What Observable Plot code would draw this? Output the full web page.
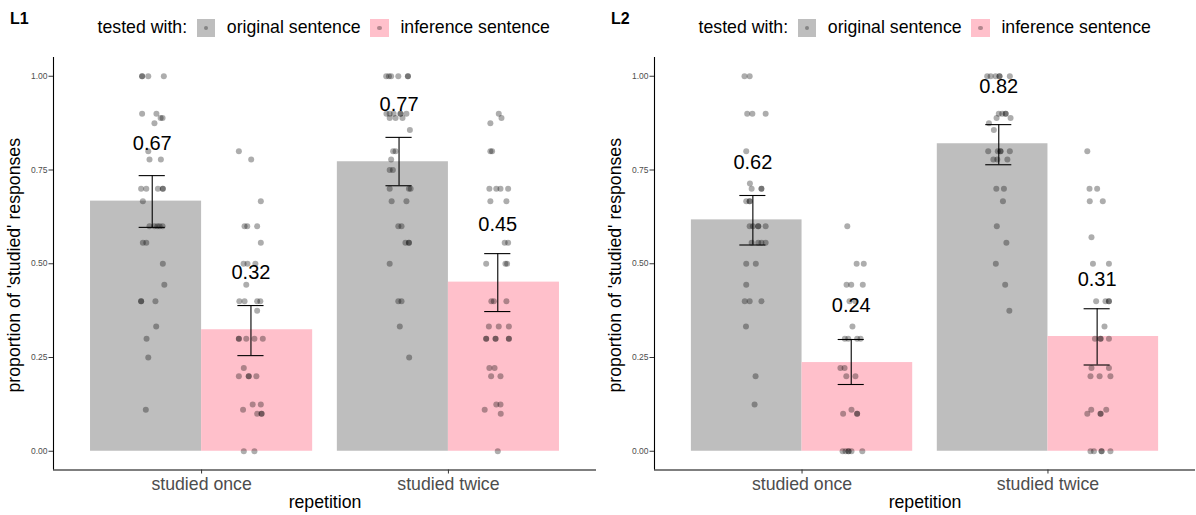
<!DOCTYPE html>
<html>
<head>
<meta charset="utf-8">
<script src="https://cdn.jsdelivr.net/npm/d3@7"></script>
<script src="https://cdn.jsdelivr.net/npm/@observablehq/plot@0.6"></script>
<style>
  body { margin: 0; background: #fff; font-family: "Liberation Sans", Arial, sans-serif; }
  #root { position: relative; width: 1196px; height: 515px; overflow: hidden; background: #fff; }
  .panel { position: absolute; top: 0; height: 515px; }
  .title { position: absolute; left: 10px; top: 10.5px; font-size: 16px; font-weight: bold; line-height: 1; color: #000; z-index: 2; }
  .legend { position: absolute; left: 97.6px; top: 18.75px; display: flex; align-items: center; font-size: 17.7px; line-height: 1; white-space: nowrap; color: #000; }
  .key { width: 18.5px; height: 18.5px; margin: 0 11.5px 0 9.8px; position: relative; }
  .key::after { content: ""; position: absolute; left: 50%; top: 50%; width: 4.5px; height: 4.5px; margin: -2.25px 0 0 -2.25px; border-radius: 50%; background: rgba(0,0,0,0.3); }
  .plotwrap { position: absolute; left: 0; top: 45px; }
</style>
</head>
<body>
<div id="root"></div>
<script>
// ---------- data ----------
const categories = ["studied once", "studied twice"];
const testTypes = ["original sentence", "inference sentence"];
const legendTitle = "tested with:";
const xTitle = "repetition";
const yTitle = "proportion of 'studied' responses";
const yTicks = [0, 0.25, 0.5, 0.75, 1];
const panelNames = ["L1", "L2"];
const fillColors = ["#BEBEBE", "#FFC0CB"];

// order in each array: once-original, once-inference, twice-original, twice-inference
const L1_means  = [0.667, 0.324, 0.772, 0.451];
const L1_lower  = [0.597, 0.255, 0.708, 0.3725];
const L1_upper  = [0.735, 0.3885, 0.837, 0.527];
const L1_labels = ["0.67", "0.32", "0.77", "0.45"];

const L2_means  = [0.617, 0.2365, 0.82, 0.306];
const L2_lower  = [0.550, 0.178, 0.764, 0.230];
const L2_upper  = [0.682, 0.298, 0.871, 0.380];
const L2_labels = ["0.62", "0.24", "0.82", "0.31"];

// individual participant proportions: [value, horizontal jitter (category units)]
const L1_once_original = [
  [1,-0.041],[1,-0.041],[1,-0.016],[1,0.047],
  [0.9,-0.041],[0.9,0.017],[0.889,0.042],[0.889,0.034],[0.875,0.009],
  [0.8,-0.016],[0.778,-0.011],[0.778,0.035],
  [0.7,-0.045],[0.7,-0.024],[0.7,0.023],[0.7,0.043],[0.7,0.043],
  [0.667,-0.038],
  [0.6,-0.011],[0.6,0.009],[0.6,0.021],[0.6,0.03],[0.6,0.042],
  [0.556,-0.038],[0.556,-0.024],[0.5,0.043],[0.444,0.049],
  [0.4,-0.045],[0.4,-0.045],[0.4,0.013],
  [0.333,0.016],[0.3,-0.023],[0.25,-0.016],[0.111,-0.026]
];
const L1_once_inference = [
  [0.8,-0.049],[0.778,0.001],[0.667,0.04],
  [0.6,-0.026],[0.6,-0.015],[0.6,0.025],[0.556,0.04],
  [0.5,-0.03],[0.5,-0.014],[0.5,0.018],[0.444,-0.019],
  [0.4,-0.047],[0.4,-0.026],[0.4,0.025],[0.4,0.038],[0.375,0.025],
  [0.3,-0.049],[0.3,-0.049],[0.3,-0.019],[0.3,0.014],[0.3,0.048],
  [0.222,-0.029],[0.2,-0.049],[0.2,-0.009],[0.2,-0.009],[0.2,0.022],
  [0.125,0.007],[0.125,0.04],[0.111,-0.032],
  [0.1,0.025],[0.1,0.043],[0.1,0.043],
  [0,-0.029],[0,0.014]
];
const L1_twice_original = [
  [1,-0.052],[1,-0.041],[1,-0.032],[1,-0.003],[1,0.036],[1,0.036],
  [0.9,-0.051],[0.9,-0.038],[0.9,-0.022],[0.9,0.006],[0.9,0.006],[0.9,0.03],
  [0.889,-0.038],[0.889,-0.014],[0.889,0.014],[0.857,0.044],
  [0.8,-0.024],[0.8,-0.014],[0.778,-0.032],[0.75,-0.038],[0.75,-0.025],
  [0.7,-0.038],[0.7,0.04],[0.7,0.047],[0.667,-0.03],[0.667,0.03],
  [0.6,-0.003],[0.6,0.01],[0.556,0.026],[0.556,0.04],[0.556,0.04],
  [0.5,-0.038],[0.4,-0.003],[0.4,0.01],[0.333,0.003],[0.25,0.041]
];
const L1_twice_inference = [
  [0.9,0.004],[0.889,0.015],[0.875,-0.03],[0.8,-0.03],[0.8,-0.023],
  [0.7,-0.034],[0.7,-0.006],[0.7,0.011],[0.7,0.042],[0.667,-0.03],[0.667,0.035],
  [0.556,0.028],[0.556,0.042],[0.5,-0.047],[0.5,0.031],[0.5,0.038],
  [0.4,-0.026],[0.4,-0.016],[0.4,0.035],
  [0.333,-0.036],[0.333,0.004],[0.333,0.045],
  [0.3,-0.047],[0.3,-0.047],[0.3,-0.009],[0.3,-0.009],[0.3,0.045],[0.3,0.045],
  [0.222,-0.034],[0.222,-0.013],[0.2,-0.027],[0.2,0.011],
  [0.125,-0.006],[0.125,0.011],[0.111,-0.053],[0.1,0.012],[0,0]
];

const L2_once_original = [
  [1,-0.034],[1,-0.013],[0.9,-0.023],[0.9,-0.002],[0.9,0.052],
  [0.8,-0.027],[0.714,-0.012],[0.7,-0.005],[0.7,0.035],[0.7,0.035],
  [0.667,-0.027],[0.667,-0.013],[0.667,-0.013],
  [0.6,-0.013],[0.6,0],[0.6,0.022],[0.6,0.022],[0.6,0.052],
  [0.556,-0.005],[0.556,0.022],[0.556,0.035],[0.556,0.052],
  [0.5,-0.027],[0.5,0.012],[0.444,-0.027],
  [0.4,-0.033],[0.4,-0.013],[0.4,0.035],
  [0.333,-0.028],[0.2,0.011],[0.125,0.007]
];
const L2_once_inference = [
  [0.6,-0.016],[0.5,0.022],[0.5,0.051],
  [0.444,-0.019],[0.444,0],[0.444,0.047],[0.4,-0.007],[0.4,0.017],
  [0.333,0.005],[0.3,-0.026],[0.3,-0.012],[0.3,0.024],[0.3,0.038],
  [0.222,-0.044],[0.222,-0.027],[0.2,-0.02],[0.2,0.017],
  [0.111,0.001],[0.1,-0.033],[0.1,0.024],[0.1,0.024],
  [0,-0.035],[0,-0.023],[0,-0.011],[0,-0.011],[0,0.001],[0,0.045]
];
const L2_twice_original = [
  [1,-0.047],[1,-0.033],[1,-0.013],[1,0.003],[1,0.003],[1,0.045],
  [0.9,0],[0.9,0.014],[0.9,0.028],[0.9,0.028],[0.889,-0.009],[0.889,0.048],
  [0.875,-0.04],[0.857,-0.02],
  [0.8,-0.043],[0.8,-0.004],[0.8,0.007],[0.8,0.007],[0.8,0.045],
  [0.778,-0.022],[0.778,-0.006],[0.778,0.035],[0.7,-0.01],[0.7,0.021],
  [0.667,0.017],[0.6,-0.008],[0.556,0.031],[0.5,-0.012],[0.444,0.026],[0.375,0.043]
];
const L2_twice_inference = [
  [0.8,-0.04],[0.7,-0.031],[0.7,0],[0.667,-0.03],[0.667,0.023],[0.571,-0.023],
  [0.5,-0.017],[0.5,0.048],[0.4,-0.004],[0.4,0.034],[0.4,0.048],[0.4,0.048],
  [0.333,0.03],[0.3,-0.009],[0.3,0.014],[0.3,0.014],[0.3,0.048],
  [0.222,-0.023],[0.222,0.048],[0.2,-0.027],[0.2,0.01],[0.2,0.054],
  [0.111,-0.024],[0.111,0.037],[0.1,-0.04],[0.1,0.014],[0.1,0.014],
  [0,-0.027],[0,-0.013],[0,0.018],[0,0.018],[0,0.054]
];

// ---------- drawing ----------
const FONT = '"Liberation Sans", Arial, sans-serif';

function makePlot(means, lower, upper, labels, pointSets, width, marginRight) {
  const cells = means.map((m, i) => ({
    cat: Math.floor(i / 2) + 1, t: i % 2, type: testTypes[i % 2],
    mean: m, lo: lower[i], hi: upper[i], label: labels[i]
  }));
  const pts = pointSets.flatMap((set, i) => set.map(([v, j]) => ({
    cat: Math.floor(i / 2) + 1, t: i % 2, value: v, jitter: j
  })));
  const cx = d => d.cat + (d.t === 0 ? -0.2 : 0.2);
  const capW = 0.053;
  return Plot.plot({
    width, height: 470,
    marginTop: 12, marginBottom: 45.5, marginLeft: 53, marginRight,
    style: { fontFamily: FONT, background: "transparent", overflow: "visible" },
    x: { type: "linear", domain: [0.4, 2.6] },
    y: { domain: [-0.05, 1.05] },
    color: { domain: testTypes, range: fillColors },
    marks: [
      Plot.rect(cells, {
        x1: d => d.t === 0 ? d.cat - 0.45 : d.cat,
        x2: d => d.t === 0 ? d.cat : d.cat + 0.45,
        y1: 0, y2: "mean", fill: "type"
      }),
      Plot.dot(pts, { x: d => cx(d) + d.jitter, y: "value", r: 3, fill: "black", fillOpacity: 0.32, stroke: "none" }),
      Plot.ruleX(cells, { x: cx, y1: "lo", y2: "hi", stroke: "black", strokeWidth: 1.1 }),
      Plot.ruleY(cells, { y: "lo", x1: d => cx(d) - capW, x2: d => cx(d) + capW, stroke: "black", strokeWidth: 1.1 }),
      Plot.ruleY(cells, { y: "hi", x1: d => cx(d) - capW, x2: d => cx(d) + capW, stroke: "black", strokeWidth: 1.1 }),
      Plot.text(cells, { x: cx, y: d => d.mean + 0.153, text: "label", fontSize: 20, fill: "black" }),
      Plot.ruleX([0.4], { y1: -0.05, y2: 1.05, stroke: "black", strokeWidth: 1.1 }),
      Plot.ruleY([-0.05], { x1: 0.4, x2: 2.6, stroke: "black", strokeWidth: 1.1 }),
      Plot.axisY({ ticks: yTicks, tickFormat: d3.format(".2f"), tickSize: 4.5, tickPadding: 1.5,
                   fontSize: 8.5, fill: "#4d4d4d", stroke: "#333", label: null }),
      Plot.axisX({ ticks: [1, 2], tickFormat: d => categories[d - 1], tickSize: 4, tickPadding: 3,
                   fontSize: 17.7, fill: "#4d4d4d", stroke: "#333", label: null }),
      Plot.text([yTitle], { frameAnchor: "left", rotate: -90, dx: -39.4, dy: 1.5, textAnchor: "middle", lineAnchor: "middle",
                            fontSize: 17.7, fill: "black", text: d => d }),
      Plot.text([xTitle], { frameAnchor: "bottom", dy: 32, textAnchor: "middle", lineAnchor: "middle",
                            fontSize: 17.7, fill: "black", text: d => d })
    ]
  });
}

function makePanel(name, left, width, marginRight, means, lower, upper, labels, pointSets) {
  const panel = document.createElement("div");
  panel.className = "panel";
  panel.style.left = left + "px";
  panel.style.width = width + "px";

  const wrap = document.createElement("div");
  wrap.className = "plotwrap";
  wrap.appendChild(makePlot(means, lower, upper, labels, pointSets, width, marginRight));
  panel.appendChild(wrap);

  const title = document.createElement("div");
  title.className = "title";
  title.textContent = name;
  panel.appendChild(title);

  const legend = document.createElement("div");
  legend.className = "legend";
  const lt = document.createElement("span");
  lt.textContent = legendTitle;
  legend.appendChild(lt);
  testTypes.forEach((t, i) => {
    const key = document.createElement("span");
    key.className = "key";
    key.style.background = fillColors[i];
    legend.appendChild(key);
    const lab = document.createElement("span");
    lab.textContent = t;
    legend.appendChild(lab);
  });
  panel.appendChild(legend);
  return panel;
}

const root = document.getElementById("root");
root.appendChild(makePanel(panelNames[0], 0, 601, 5, L1_means, L1_lower, L1_upper, L1_labels,
  [L1_once_original, L1_once_inference, L1_twice_original, L1_twice_inference]));
root.appendChild(makePanel(panelNames[1], 601, 595, 1, L2_means, L2_lower, L2_upper, L2_labels,
  [L2_once_original, L2_once_inference, L2_twice_original, L2_twice_inference]));
</script>
</body>
</html>
